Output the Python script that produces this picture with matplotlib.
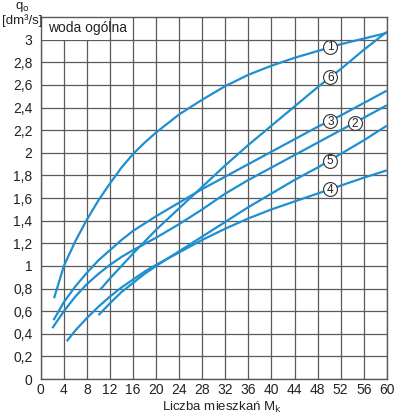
import matplotlib
matplotlib.use("Agg")
import matplotlib.pyplot as plt
from matplotlib.patches import Rectangle

plt.rcParams['font.family'] = ['Liberation Sans Narrow', 'Liberation Sans', 'DejaVu Sans']
plt.rcParams['mathtext.fontset'] = 'custom'
plt.rcParams['mathtext.rm'] = 'Liberation Sans Narrow'

# curve data: M (number of flats) -> q [dm3/s]
m1 = [2.3, 4, 6, 8, 10, 12, 14, 16, 18, 20, 24, 28, 32, 36, 40, 44, 48, 52, 56, 60]
q1 = [0.715, 1.0, 1.22, 1.41, 1.58, 1.73, 1.87, 1.99, 2.09, 2.18, 2.34, 2.47, 2.59, 2.69, 2.77, 2.84, 2.90, 2.96, 3.01, 3.06]

m2 = [2.0, 4, 6, 8, 10, 12, 14, 16, 20, 24, 28, 32, 36, 40, 44, 48, 52, 56, 60]
q2 = [0.45, 0.60, 0.73, 0.84, 0.93, 1.01, 1.08, 1.14, 1.25, 1.37, 1.50, 1.64, 1.76, 1.87, 1.98, 2.09, 2.20, 2.31, 2.42]

m3 = [2.2, 4, 6, 8, 10, 12, 14, 16, 20, 24, 28, 32, 36, 40, 44, 48, 52, 56, 60]
q3 = [0.52, 0.68, 0.82, 0.94, 1.05, 1.14, 1.23, 1.31, 1.44, 1.56, 1.68, 1.79, 1.90, 2.01, 2.12, 2.23, 2.33, 2.44, 2.55]

m4 = [4.5, 6, 8, 10, 12, 14, 16, 18, 20, 24, 28, 32, 36, 40, 44, 48, 52, 56, 60]
q4 = [0.335, 0.43, 0.54, 0.64, 0.73, 0.81, 0.88, 0.95, 1.01, 1.12, 1.23, 1.33, 1.42, 1.50, 1.57, 1.64, 1.71, 1.78, 1.845]

m5 = [10, 12, 14, 16, 18, 20, 24, 28, 32, 36, 40, 44, 48, 52, 56, 60]
q5 = [0.565, 0.67, 0.77, 0.85, 0.93, 1.00, 1.13, 1.26, 1.39, 1.52, 1.64, 1.76, 1.87, 1.99, 2.11, 2.24]

m6 = [10.3, 12, 14, 16, 20, 24, 28, 32, 36, 40, 44, 48, 52, 56, 60]
q6 = [0.79, 0.89, 1.0, 1.11, 1.32, 1.51, 1.70, 1.89, 2.07, 2.24, 2.41, 2.58, 2.74, 2.91, 3.07]

# curve labels (number, M, q)
label_nums = ["1", "6", "3", "2", "5", "4"]
label_m = [50.2, 50.2, 50.2, 54.5, 50.2, 50.2]
label_q = [2.94, 2.67, 2.28, 2.26, 1.93, 1.68]

xticks = list(range(0, 61, 4))
yticks = [i / 5 for i in range(16)]
ytick_labels = ["0" if v == 0 else ("%g" % v).replace(".", ",") for v in yticks]

blue = "#1e8fd0"
grid_c = "#5a5a5a"
txt_c = "#222222"

fig = plt.figure(figsize=(4.0, 4.17), dpi=100)
ax = fig.add_axes([0.102, 0.091, 0.865, 0.868])

for m, q in [(m1, q1), (m2, q2), (m3, q3), (m4, q4), (m5, q5), (m6, q6)]:
    ax.plot(m, q, color=blue, lw=1.6, solid_capstyle="butt", zorder=3)

for t, mx, qy in zip(label_nums, label_m, label_q):
    ax.plot(mx, qy, "o", ms=10, mfc="white", mec="#333333", mew=0.8, zorder=4)
    ax.text(mx, qy - 0.005, t, ha="center", va="center", fontsize=8.5, color=txt_c, zorder=5)

ax.set_xlim(0, 60)
ax.set_ylim(0, 3.2)
ax.set_xticks(xticks)
ax.set_yticks(yticks)
ax.set_yticklabels(ytick_labels)
ax.tick_params(length=0, labelsize=10, colors=txt_c)
ax.tick_params(axis="x", pad=3)
ax.tick_params(axis="y", pad=6)
ax.grid(True, color=grid_c, lw=0.9)
ax.set_axisbelow(True)
for s in ax.spines.values():
    s.set_color(grid_c)
    s.set_linewidth(1.0)

# white box behind the title inside the plot
ax.add_patch(Rectangle((0, 3.0), 11.6, 0.2, facecolor="white", edgecolor="none", zorder=1))
ax.text(1.2, 3.1, "woda ogólna", ha="left", va="center", fontsize=10, color=txt_c, zorder=5)

fig.text(0.055, 0.984, "q$_\\mathrm{o}$", ha="center", va="center", fontsize=9.5, color=txt_c)
fig.text(0.055, 0.950, "[dm³/s]", ha="center", va="center", fontsize=9.5, color=txt_c)
fig.text(0.555, 0.022, "Liczba mieszkań M$_\\mathrm{k}$", ha="center", va="center", fontsize=9.5, color=txt_c)

fig.savefig("out.png", dpi=100)
